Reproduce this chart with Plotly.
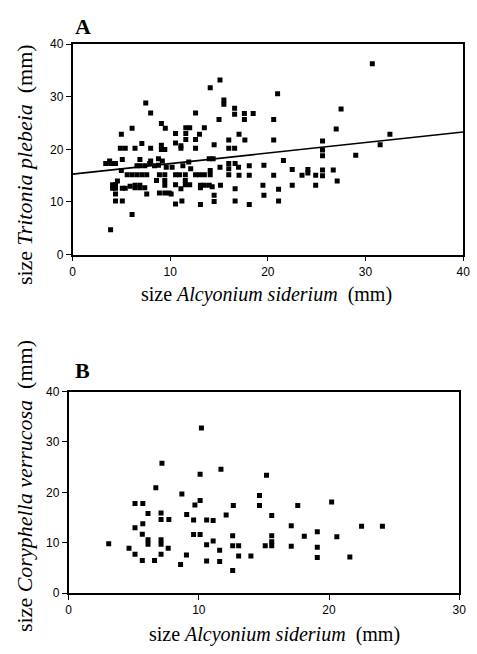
import plotly.graph_objects as go

# ---------------- Panel A data: Alcyonium size vs Tritonia plebeia size ----------------
a_x = [7.5, 8.0, 9.1, 9.5, 6.1, 5.0, 7.1,
       4.9, 5.4, 6.4, 8.0, 9.1, 9.1, 9.45,
       5.1, 3.4, 3.9, 4.4, 6.9,
       6.6, 6.9, 7.4,
       8.0, 8.8, 9.2, 8.8, 8.4, 7.9,
       9.6,
       5.6, 6.1, 6.6, 7.1, 7.6, 8.9, 9.45,
       8.6, 9.45, 9.45,
       4.1, 4.4, 4.1, 4.4,
       5.1, 5.4, 5.9, 6.4, 6.9, 6.4, 6.9, 7.4,
       8.9, 9.45, 9.9,
       7.6, 4.4, 4.4, 5.1, 6.1, 3.9,
       5.0, 4.6, 3.8,
       15.1, 14.1, 15.5, 15.5, 16.6, 16.6,
       12.6, 15.0, 11.6, 12.0, 13.5, 10.55, 11.6, 13.0, 17.05,
       11.6, 12.6, 16.0, 10.55, 11.1, 11.1, 12.6, 14.5, 16.0, 16.6,
       10.2, 11.3, 11.9, 12.1, 14.0, 14.4, 15.1, 16.0, 16.0, 16.65, 17.0,
       10.55, 10.95, 11.55, 12.6, 13.0, 13.5, 14.1, 14.1, 16.0, 17.05,
       11.55, 10.55, 11.55, 12.0, 13.1, 13.5, 14.0, 14.3, 13.1, 15.15, 16.65, 11.1,
       10.1, 14.5, 14.5, 10.55, 11.2, 13.1, 16.65,
       21.0, 17.6, 18.5, 17.6, 20.6, 17.65, 20.6, 21.6, 18.1, 19.6,
       22.5, 24.1, 24.1, 23.5, 24.9, 18.1, 20.6, 19.5, 22.5, 24.9,
       21.1, 19.6, 21.1, 18.1,
       30.7, 27.5, 27.0, 32.5, 25.6, 31.5, 25.6, 25.6, 29.0, 25.6,
       26.7, 25.6, 27.1]
a_y = [28.8, 26.9, 24.9, 24.0, 24.0, 22.9, 21.1,
       20.2, 20.2, 20.2, 20.2, 20.8, 20.0, 20.0,
       18.1, 17.3, 17.3, 17.3, 18.1,
       16.9, 16.9, 16.9,
       17.8, 18.2, 17.8, 17.0, 16.9, 17.3,
       16.6,
       15.2, 15.2, 15.2, 15.2, 15.2, 15.2, 15.2,
       14.1, 14.1, 13.2,
       13.3, 13.3, 12.6, 12.6,
       12.6, 12.6, 13.0, 13.2, 13.2, 12.7, 12.7, 12.7,
       11.7, 11.7, 11.7,
       11.5, 11.5, 10.2, 10.2, 7.6, 4.7,
       16.0, 14.0, 17.8,
       33.2, 31.7, 29.4, 28.6, 27.8, 26.7,
       26.9, 25.7, 24.1, 24.1, 24.1, 23.0, 23.0, 22.9, 22.9,
       21.9, 21.9, 21.8, 21.2, 20.7, 20.2, 20.2, 20.9, 20.2, 20.2,
       16.6, 16.9, 17.6, 16.3, 18.2, 18.2, 16.6, 17.3, 16.3, 17.3, 16.6,
       15.2, 15.2, 15.2, 15.2, 15.2, 15.2, 15.2, 16.0, 15.2, 15.1,
       14.1, 13.3, 13.3, 13.3, 13.2, 13.2, 13.2, 12.9, 12.7, 13.2, 12.5, 12.5,
       11.5, 11.3, 10.1, 9.6, 10.2, 9.5, 10.2,
       30.6, 26.8, 26.8, 25.7, 25.7, 21.8, 21.8, 17.9, 16.9, 17.0,
       16.2, 16.2, 15.5, 15.1, 15.1, 15.1, 15.1, 13.2, 13.2, 13.2,
       12.4, 11.3, 10.2, 9.5,
       36.3, 27.7, 23.9, 22.9, 21.6, 20.9, 19.9, 18.8, 18.9, 16.1,
       16.1, 15.0, 14.0]

# regression line for panel A (end points)
fit_x = [0, 40]
fit_y = [15.3, 23.3]

# ---------------- Panel B data: Alcyonium size vs Coryphella verrucosa size ----------------
b_x = [10.2, 7.17, 10.1, 11.7, 6.7, 8.7, 10.1, 9.7, 5.1, 5.7,
       12.65, 6.1, 7.1, 7.1, 7.7, 9.07, 9.6, 10.6, 11.1, 12.1,
       5.7, 5.1, 5.66, 9.6, 10.1, 12.6, 6.1, 6.1, 7.1, 7.1,
       3.08, 11.1, 10.6, 4.64, 7.65, 11.6, 12.6, 13.06, 5.1, 7.1,
       13.06, 9.05, 5.66, 6.6, 10.6, 11.6, 8.6, 12.6,
       15.2, 14.66, 14.66, 17.6, 20.2, 15.6, 17.1, 22.5, 24.1, 19.1,
       15.6, 18.1, 20.6, 15.6, 15.6, 15.1, 17.1, 19.1, 14.0, 19.1, 21.6]
b_y = [32.8, 25.8, 23.6, 24.6, 20.9, 19.7, 18.4, 17.5, 17.8, 17.8,
       17.4, 15.8, 15.9, 14.6, 14.6, 15.6, 14.5, 14.5, 14.4, 15.5,
       13.8, 13.0, 11.7, 11.65, 11.65, 11.4, 10.6, 9.7, 10.6, 9.7,
       9.8, 10.35, 9.6, 8.9, 8.9, 8.5, 9.4, 9.4, 7.7, 7.7,
       7.4, 7.6, 6.5, 6.5, 6.4, 6.3, 5.7, 4.5,
       23.4, 19.4, 17.4, 17.4, 18.1, 15.4, 13.4, 13.3, 13.3, 12.2,
       11.4, 11.3, 11.2, 10.2, 9.4, 9.4, 9.3, 9.1, 7.4, 7.1, 7.2]

a_xticks = [0, 10, 20, 30, 40]
b_xticks = [0, 10, 20, 30]
yticks = [0, 10, 20, 30, 40]

W, H = 477, 654
fig = go.Figure()

marker = dict(symbol="square", size=5, color="black", line=dict(width=0))
fig.add_trace(go.Scatter(x=a_x, y=a_y, mode="markers", marker=marker,
                         xaxis="x", yaxis="y", showlegend=False))
fig.add_trace(go.Scatter(x=fit_x, y=fit_y, mode="lines",
                         line=dict(color="black", width=1.6),
                         xaxis="x", yaxis="y", showlegend=False))
fig.add_trace(go.Scatter(x=b_x, y=b_y, mode="markers", marker=marker,
                         xaxis="x2", yaxis="y2", showlegend=False))

tickfont = dict(family="Liberation Sans, Arial, sans-serif", size=12, color="black")
axcommon = dict(showgrid=False, zeroline=False, showline=True, linecolor="black",
                linewidth=1.5, mirror=True, ticks="outside", ticklen=5,
                tickcolor="black", tickwidth=1.3, tickfont=tickfont)

fig.update_layout(
    width=W, height=H,
    margin=dict(l=0, r=0, t=0, b=0),
    paper_bgcolor="white", plot_bgcolor="white",
    xaxis=dict(domain=[71 / W, 470 / W], range=[0, 40], tickvals=a_xticks,
               anchor="y", **axcommon),
    yaxis=dict(domain=[1 - 253 / H, 1 - 38 / H], range=[0, 40], tickvals=yticks,
               anchor="x", **axcommon),
    xaxis2=dict(domain=[67 / W, 466 / W], range=[0, 30], tickvals=b_xticks,
                anchor="y2", **axcommon),
    yaxis2=dict(domain=[1 - 599 / H, 1 - 393 / H], range=[0, 40], tickvals=yticks,
                anchor="x2", **axcommon),
)

serif = "Liberation Serif, Times New Roman, serif"
titlefont = dict(family=serif, size=20, color="black")
ytitlefont = dict(family=serif, size=22, color="black")
anns = [
    dict(text="<b>A</b>", x=72 / W, y=1 - 20 / H, xanchor="left", yanchor="middle",
         font=dict(family=serif, size=22, color="black")),
    dict(text="<b>B</b>", x=72 / W, y=1 - 371 / H, xanchor="left", yanchor="middle",
         font=dict(family=serif, size=22, color="black")),
    dict(text="size <i>Alcyonium siderium</i>  (mm)", x=269 / W, y=1 - 294 / H,
         xanchor="center", yanchor="middle", font=titlefont),
    dict(text="size <i>Alcyonium siderium</i>  (mm)", x=277 / W, y=1 - 641 / H,
         xanchor="center", yanchor="middle", font=titlefont),
    dict(text="size <i>Tritonia plebeia</i>  (mm)", x=22 / W, y=1 - 161 / H,
         xanchor="center", yanchor="middle", textangle=-90, font=ytitlefont),
    dict(text="size <i>Coryphella verrucosa</i>  (mm)", x=22 / W, y=1 - 490 / H,
         xanchor="center", yanchor="middle", textangle=-90, font=ytitlefont),
]
for a in anns:
    a.update(xref="paper", yref="paper", showarrow=False)
fig.update_layout(annotations=anns)

fig.write_html("out.html",
               config={"displayModeBar": False},
               post_script="document.body.style.margin='0';document.body.style.padding='0';")
